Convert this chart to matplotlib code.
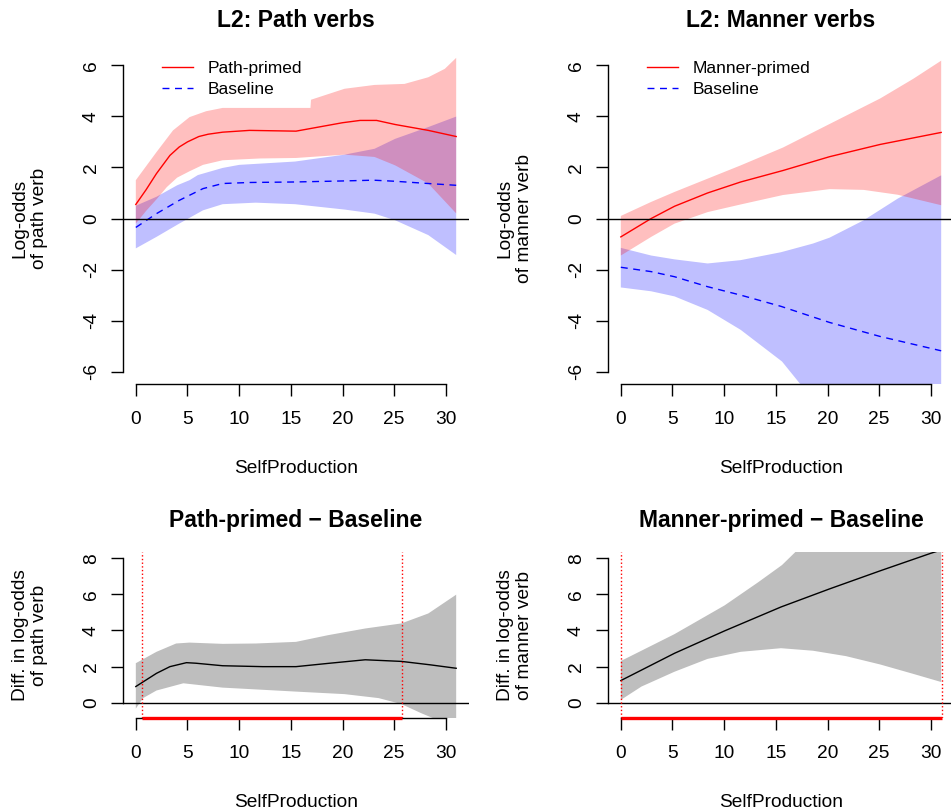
import numpy as np
import matplotlib
matplotlib.use("Agg")
import matplotlib.pyplot as plt

plt.rcParams['font.family'] = ['Liberation Sans', 'DejaVu Sans']

# --- L2: Path verbs (top left) ---
pp_x = [0, 1, 2, 3.3, 4.2, 5, 6.1, 7, 8.4, 11, 15.5, 18.5, 20, 21.7, 23.3, 25.1, 28.3, 31]
pp_fit = [0.55, 1.13, 1.76, 2.47, 2.8, 3.0, 3.21, 3.3, 3.38, 3.45, 3.42, 3.64, 3.75, 3.84, 3.84, 3.68, 3.45, 3.21]
pp_up_x = [0, 2, 3.6, 5.2, 6.8, 8.4, 12, 16.9, 16.95, 20.2, 23.1, 26, 28.3, 29.9, 31]
pp_up = [1.5, 2.6, 3.45, 3.97, 4.2, 4.33, 4.33, 4.33, 4.65, 5.08, 5.23, 5.27, 5.53, 5.86, 6.29]
pp_lo_x = [0, 1, 2, 3, 4, 5.2, 6.5, 8.4, 12, 15.5, 20.2, 23.1, 25.1, 28.3, 31]
pp_lo = [-0.2, 0.3, 0.75, 1.23, 1.6, 1.85, 2.1, 2.28, 2.35, 2.37, 2.5, 2.41, 2.08, 1.37, 0.2]

pb_x = [0, 2, 4.2, 6.5, 8.4, 11, 15.4, 20, 23, 25, 28.3, 31]
pb_fit = [-0.35, 0.19, 0.71, 1.17, 1.37, 1.41, 1.43, 1.47, 1.5, 1.46, 1.37, 1.3]
pb_up_x = [0, 2, 4, 5.2, 6, 8.4, 10, 15.4, 20.2, 23.1, 25.1, 28.3, 31]
pb_up = [0.5, 0.85, 1.3, 1.5, 1.7, 1.98, 2.1, 2.23, 2.5, 2.73, 3.12, 3.58, 3.99]
pb_lo_x = [0, 2, 4.2, 6.5, 8.4, 11.6, 15.4, 20.2, 23.1, 25.1, 28.3, 31]
pb_lo = [-1.17, -0.72, -0.2, 0.32, 0.56, 0.62, 0.56, 0.35, 0.19, -0.07, -0.65, -1.43]

# --- L2: Manner verbs (top right) ---
mp_x = [0, 2.94, 5.2, 8.4, 11.6, 15.7, 20.2, 25.1, 31]
mp_fit = [-0.72, 0, 0.48, 1.0, 1.43, 1.88, 2.42, 2.9, 3.37]
mp_up_x = [0, 2.94, 5.2, 8.4, 11.6, 15.7, 20.2, 25.1, 28.3, 31]
mp_up = [0.1, 0.65, 1.04, 1.56, 2.08, 2.78, 3.7, 4.7, 5.47, 6.18]
mp_lo_x = [0, 2.94, 5.2, 8.4, 11.6, 15.7, 20.2, 23.5, 26.8, 31]
mp_lo = [-1.45, -0.72, -0.2, 0.25, 0.55, 0.92, 1.15, 1.12, 0.93, 0.52]

mb_x = [0, 2.94, 5.2, 8.4, 11.6, 15.5, 20.2, 25.1, 31]
mb_fit = [-1.91, -2.08, -2.28, -2.67, -3.0, -3.44, -4.07, -4.62, -5.18]
mb_up_x = [0, 2.94, 5.2, 8.4, 11.6, 15.5, 18.6, 20.2, 23.5, 26.8, 31]
mb_up = [-1.15, -1.45, -1.6, -1.76, -1.63, -1.32, -0.98, -0.75, -0.07, 0.78, 1.69]
mb_lo_x = [0, 2.94, 5.2, 8.4, 11.6, 15.6, 17.3, 20, 25, 31]
mb_lo = [-2.7, -2.85, -3.05, -3.58, -4.36, -5.6, -6.45, -7.5, -9.5, -12]

# --- differences (bottom) ---
d1_x = [0, 2, 3.3, 4.9, 5.8, 8.4, 12.3, 15.5, 18.6, 22.2, 25.7, 28.5, 31]
d1_fit = [0.9, 1.63, 2.0, 2.22, 2.19, 2.05, 2.0, 2.0, 2.18, 2.38, 2.29, 2.1, 1.91]
d1_up_x = [0, 2, 3.9, 5.2, 8.4, 11.6, 15.5, 18.6, 22.2, 25.7, 28.3, 31]
d1_up = [2.19, 2.82, 3.28, 3.33, 3.26, 3.28, 3.37, 3.74, 4.11, 4.39, 4.94, 5.98]
d1_lo_x = [0, 0.7, 2, 4.6, 8.4, 12.3, 15.5, 20.2, 23.5, 25.7, 27.6, 29.2, 31]
d1_lo = [-0.32, 0.26, 0.68, 1.08, 0.84, 0.72, 0.62, 0.48, 0.26, -0.07, -0.57, -0.95, -1.6]
d1_sig = [0.58, 25.72]

d2_x = [0, 5.2, 10.05, 15.5, 20.2, 25.1, 30, 31]
d2_fit = [1.23, 2.74, 3.98, 5.3, 6.3, 7.3, 8.27, 8.45]
d2_up_x = [0, 5.2, 10.05, 13.3, 15.6, 17, 20, 25, 31]
d2_up = [2.31, 3.8, 5.39, 6.67, 7.62, 8.4, 9.8, 12.2, 15.2]
d2_lo_x = [0, 2, 5.2, 8.4, 11.6, 15.5, 18.6, 21.8, 25.1, 28.3, 31]
d2_lo = [0.16, 0.9, 1.72, 2.43, 2.82, 3.02, 2.88, 2.58, 2.12, 1.6, 1.15]
d2_sig = [0, 31.04]

xticks = [0, 5, 10, 15, 20, 25, 30]
FS = 13.8


def band(ax, ux, uy, lx, ly, color):
    px = list(ux) + list(lx)[::-1]
    py = list(uy) + list(ly)[::-1]
    ax.fill(px, py, color=color, lw=0)


def style(ax, ylim, yticks, title, ylabel, tpad):
    ax.set_xlim(-1.24, 32.24)
    ax.set_ylim(*ylim)
    for s in ['top', 'right']:
        ax.spines[s].set_visible(False)
    ax.spines['left'].set_bounds(yticks[0], yticks[-1])
    ax.spines['bottom'].set_bounds(0, 30)
    ax.spines['left'].set_linewidth(1.0)
    ax.spines['bottom'].set_linewidth(1.0)
    ax.set_xticks(xticks)
    ax.set_yticks(yticks)
    ax.set_yticklabels([str(v) for v in yticks], rotation=90, va='center')
    ax.tick_params(axis='both', length=8.6, width=1.0, labelsize=FS)
    ax.tick_params(axis='y', pad=8)
    ax.tick_params(axis='x', pad=11)
    ax.axhline(0, color='black', lw=1.0)
    ax.set_title(title, fontsize=16.5, fontweight='bold', pad=tpad)
    ax.set_xlabel('SelfProduction', fontsize=FS, labelpad=23)
    ax.set_ylabel(ylabel, fontsize=FS, labelpad=25)


fig = plt.figure(figsize=(9.51, 8.11), dpi=100)
W, H = 951, 811


def add_axes(x0, x1, y0, y1):
    return fig.add_axes([x0 / W, 1 - y1 / H, (x1 - x0) / W, (y1 - y0) / H])


ax1 = add_axes(123, 469, 53, 384)
ax2 = add_axes(608, 954, 53, 384)
ax3 = add_axes(123, 469, 552, 718)
ax4 = add_axes(608, 954, 552, 718)

red_fill = (1, 0, 0, 0.25)
blue_fill = (0, 0, 1, 0.25)

# top left
band(ax1, pb_up_x, pb_up, pb_lo_x, pb_lo, blue_fill)
ax1.plot(pb_x, pb_fit, color='blue', lw=1.0, dashes=(5, 4), label='Baseline')
band(ax1, pp_up_x, pp_up, pp_lo_x, pp_lo, red_fill)
ax1.plot(pp_x, pp_fit, color='red', lw=1.0, label='Path-primed')
style(ax1, (-6.48, 6.48), [-6, -4, -2, 0, 2, 4, 6], 'L2: Path verbs',
      'Log-odds\nof path verb', 19)

# top right
band(ax2, mb_up_x, mb_up, mb_lo_x, mb_lo, blue_fill)
ax2.plot(mb_x, mb_fit, color='blue', lw=1.0, dashes=(5, 4), label='Baseline')
band(ax2, mp_up_x, mp_up, mp_lo_x, mp_lo, red_fill)
ax2.plot(mp_x, mp_fit, color='red', lw=1.0, label='Manner-primed')
style(ax2, (-6.48, 6.48), [-6, -4, -2, 0, 2, 4, 6], 'L2: Manner verbs',
      'Log-odds\nof manner verb', 19)

for ax in (ax1, ax2):
    h, l = ax.get_legend_handles_labels()
    ax.legend(h[::-1], l[::-1], loc='upper left', bbox_to_anchor=(0.113, 0.977),
              frameon=False, fontsize=12.5, handlelength=1.8, handletextpad=0.85,
              labelspacing=0.33, borderpad=0, borderaxespad=0)

# bottom
for ax, ux, uy, lx, ly, fx, fy, sig, title, ylab in [
        (ax3, d1_up_x, d1_up, d1_lo_x, d1_lo, d1_x, d1_fit, d1_sig,
         'Path-primed \u2212 Baseline', 'Diff. in log-odds\nof path verb'),
        (ax4, d2_up_x, d2_up, d2_lo_x, d2_lo, d2_x, d2_fit, d2_sig,
         'Manner-primed \u2212 Baseline', 'Diff. in log-odds\nof manner verb')]:
    band(ax, ux, uy, lx, ly, '#BEBEBE')
    ax.plot(fx, fy, color='black', lw=1.0)
    style(ax, (-0.84, 8.34), [0, 2, 4, 6, 8], title, ylab, 18)
    for s in sig:
        ax.axvline(s, color='red', ls=':', lw=1.0)
    ax.plot(sig, [-0.84, -0.84], color='red', lw=2.4, clip_on=False,
            solid_capstyle='butt', zorder=5)

fig.savefig('out.png', dpi=100)
